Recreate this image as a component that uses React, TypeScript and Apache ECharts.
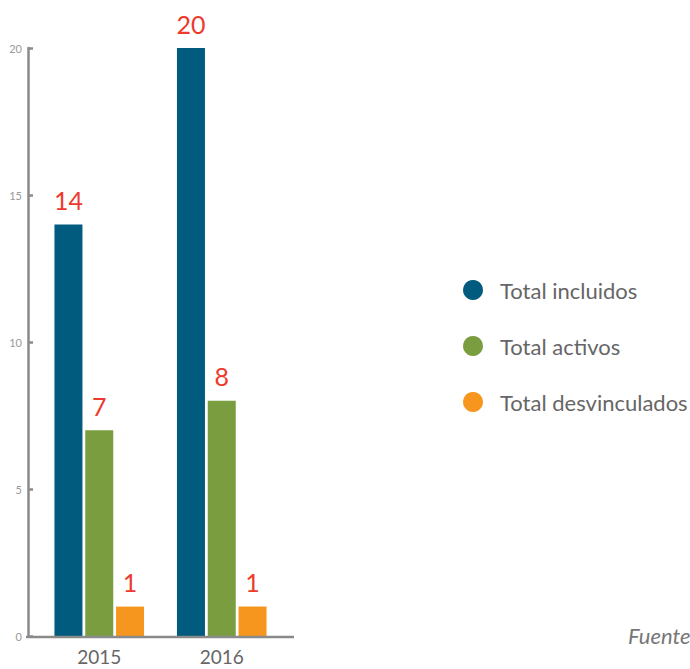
import React, { useEffect, useRef } from "react";
import * as echarts from "echarts";

const categories = ["2015", "2016"];
const seriesNames = ["Total incluidos", "Total activos", "Total desvinculados"];
const incluidos = [14, 20];
const activos = [7, 8];
const desvinculados = [1, 1];
const yTicks = { min: 0, max: 20, interval: 5 };
const colors = ["#015b7e", "#7a9d40", "#f6961f"];
const sourceText = "Fuente";

const FONT = "Lato, 'Open Sans', sans-serif";

export default function App() {
  const ref = useRef<HTMLDivElement>(null);
  useEffect(() => {
    if (!ref.current) return;
    const chart = echarts.init(ref.current, undefined, { renderer: "svg" });
    const values = [incluidos, activos, desvinculados];
    const label = {
      show: true,
      position: "top",
      distance: 12,
      color: "#ee3a2c",
      fontSize: 25,
      fontFamily: FONT,
    };
    chart.setOption({
      animation: false,
      textStyle: { fontFamily: FONT },
      grid: { left: 38, right: 407, top: 48, bottom: 33 },
      legend: {
        orient: "vertical",
        left: 458,
        top: 274,
        icon: "circle",
        itemWidth: 20,
        itemHeight: 20,
        itemGap: 34,
        textStyle: { fontSize: 22, color: "#666", fontFamily: FONT, padding: [0, 0, 0, 12] },
        data: seriesNames,
      },
      xAxis: {
        type: "category",
        data: categories,
        axisLine: { show: false },
        axisTick: { show: false },
        axisLabel: { fontSize: 19, color: "#666", margin: 11, fontFamily: FONT },
      },
      yAxis: {
        type: "value",
        min: yTicks.min,
        max: yTicks.max,
        interval: yTicks.interval,
        offset: 10,
        axisLine: { show: true, lineStyle: { color: "#8a8a8a", width: 2.5 } },
        axisTick: { show: true, inside: true, length: 5, lineStyle: { color: "#8a8a8a", width: 2.5 } },
        axisLabel: { fontSize: 11, color: "#999", margin: 6, fontFamily: FONT },
        splitLine: { show: false },
      },
      series: seriesNames.map((name, i) => ({
        name,
        type: "bar",
        data: values[i],
        barWidth: 28,
        barGap: "10%",
        itemStyle: { color: colors[i] },
        label,
      })),
      graphic: [
        {
          type: "line",
          shape: { x1: 26, y1: 637, x2: 294, y2: 637 },
          style: { stroke: "#8a8a8a", lineWidth: 2.5 },
          z: 10,
        },
        {
          type: "text",
          left: 628,
          top: 624,
          style: {
            text: sourceText,
            fontSize: 22,
            fontStyle: "italic",
            fill: "#777",
            fontFamily: FONT,
          },
        },
      ],
    });
    return () => chart.dispose();
  }, []);
  return (
    <div
      ref={ref}
      style={{ position: "absolute", left: 0, top: 0, width: 690, height: 669, overflow: "hidden" }}
    />
  );
}
